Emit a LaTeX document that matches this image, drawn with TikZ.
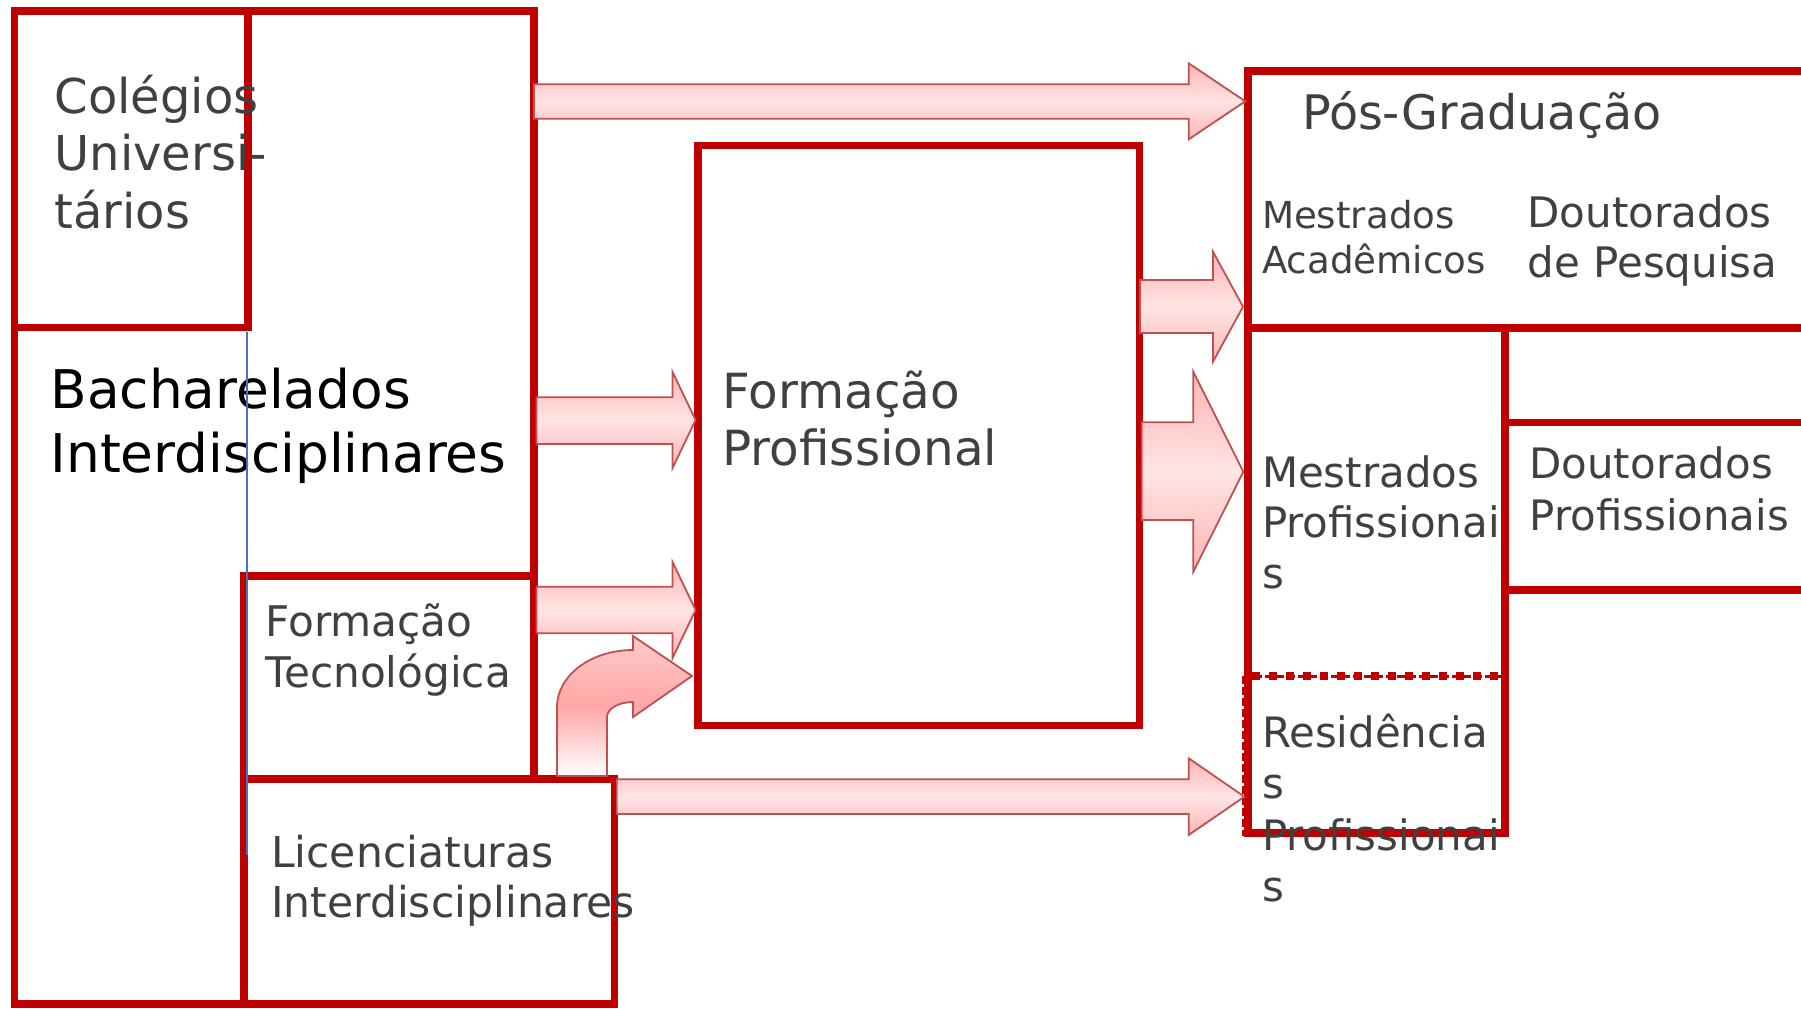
\documentclass[tikz,border=0pt]{standalone}
\usepackage{fontspec}
\setmainfont{DejaVu Sans}
\definecolor{boxred}{HTML}{C00000}
\definecolor{arrline}{HTML}{C0504D}
\definecolor{pinkD}{HTML}{FFB4B4}
\definecolor{pinkL}{HTML}{FFE4E4}
\definecolor{pinkM}{HTML}{FFA6A6}
\definecolor{txtgray}{HTML}{404040}
\definecolor{blueln}{HTML}{4472C4}
\newcommand\harrow[8]{\path[arrowfill] (#1,#2) -- (#4,#2) -- (#4,#5) -- (#7,#8) -- (#4,#6) -- (#4,#3) -- (#1,#3) -- cycle;}
\begin{document}
\begin{tikzpicture}[x=0.5pt,y=-0.5pt,
  box/.style={draw=boxred, line width=3.75pt, line join=miter},
  arrowfill/.style={draw=arrline, line width=0.9pt, top color=pinkD, bottom color=pinkD, middle color=pinkL},
  curvefill/.style={draw=arrline, line width=0.9pt, top color=pinkD!70!white, bottom color=white, middle color=pinkM},
  tx/.style={inner sep=0pt, outer sep=0pt, anchor=base west, text=txtgray}]
\useasboundingbox (0,0) rectangle (1801,1008);
% boxes
\draw[box] (244,1004) -- (14.5,1004) -- (14.5,11) -- (534,11) -- (534,580);
\draw[box] (14.5,11) rectangle (248,327.5);
\draw[box] (244,576) rectangle (534,779);
\draw[box] (244,779) rectangle (614.5,1004);
\draw[box] (698,145.3) rectangle (1139.5,725.5);
\draw[box] (1248,71) rectangle (1805,328);
\draw[box] (1248,328) rectangle (1505,833);
\draw[box] (1505,422.6) rectangle (1805,590);
\draw[boxred, line width=4pt, dash pattern=on 4pt off 4.5pt] (1252,676) -- (1500,676);
\draw[boxred, line width=1.5pt, dash pattern=on 4pt off 1.5pt] (1243.5,676) rectangle (1507,834);
% arrows
\harrow{534}{84.3}{118.7}{1188.7}{63.3}{139.3}{1245.3}{101.3}
\harrow{536.5}{397.3}{444}{672.4}{371.7}{468.3}{695.6}{420}
\harrow{536.5}{586.7}{633.3}{672.4}{561.7}{658.3}{695.6}{610}
\harrow{1140}{280}{333}{1213}{251.7}{361.7}{1243}{306.7}
\harrow{1141.7}{422.3}{520}{1193.3}{371.7}{571.7}{1243.3}{471.7}
\harrow{616.7}{779.3}{814}{1188.7}{758.3}{835}{1244.4}{796.7}
\path[curvefill] (557,776) -- (557,707) .. controls (557,675.5) and (591,650) .. (633,650)
  -- (633,636) -- (692,676) -- (633,717) -- (633,702)
  .. controls (618.6,702) and (607,708.7) .. (607,717) -- (607,776) -- cycle;
% texts
\node[tx, font=\fontsize{24}{28.75}\selectfont] (colegios) at (54.5,113) {\vtop{\hbox{Colégios}\hbox{Universi-}\hbox{tários}}};
\node[tx, text=black, font=\fontsize{26.65}{32}\selectfont] (bach) at (50.5,408) {\vtop{\hbox{Bacharelados}\hbox{Interdisciplinares}}};
\node[tx, font=\fontsize{21.1}{25.5}\selectfont] (ftec) at (265.5,636) {\vtop{\hbox{Formação}\hbox{Tecnológica}}};
\node[tx, font=\fontsize{21.27}{25}\selectfont] (lic) at (271,867) {\vtop{\hbox{Licenciaturas}\hbox{Interdisciplinares}}};
\node[tx, font=\fontsize{24.2}{28.8}\selectfont] (fprof) at (722.5,408.3) {\vtop{\hbox{Formação}\hbox{Profissional}}};
\node[tx, font=\fontsize{23.8}{28}\selectfont] (pos) at (1302,129.3) {Pós-Graduação};
\node[tx, font=\fontsize{18.6}{22.3}\selectfont] (macad) at (1262,228.6) {\vtop{\hbox{Mestrados}\hbox{Acadêmicos}}};
\node[tx, font=\fontsize{21}{25}\selectfont] (dpesq) at (1527.5,227.5) {\vtop{\hbox{Doutorados}\hbox{de Pesquisa}}};
\node[tx, font=\fontsize{20.95}{25.2}\selectfont] (mprof) at (1262,487.5) {\vtop{\hbox{Mestrados}\hbox{Profissionai}\hbox{s}}};
\node[tx, font=\fontsize{20.95}{25.9}\selectfont] (dprof) at (1529.5,478.6) {\vtop{\hbox{Doutorados}\hbox{Profissionais}}};
\node[tx, font=\fontsize{20.95}{25.7}\selectfont] (resid) at (1262,747.5) {\vtop{\hbox{Residência}\hbox{s}\hbox{Profissionai}\hbox{s}}};
% thin blue line
\draw[blueln, line width=0.75pt] (247,332) -- (247,855);
\end{tikzpicture}
\end{document}
